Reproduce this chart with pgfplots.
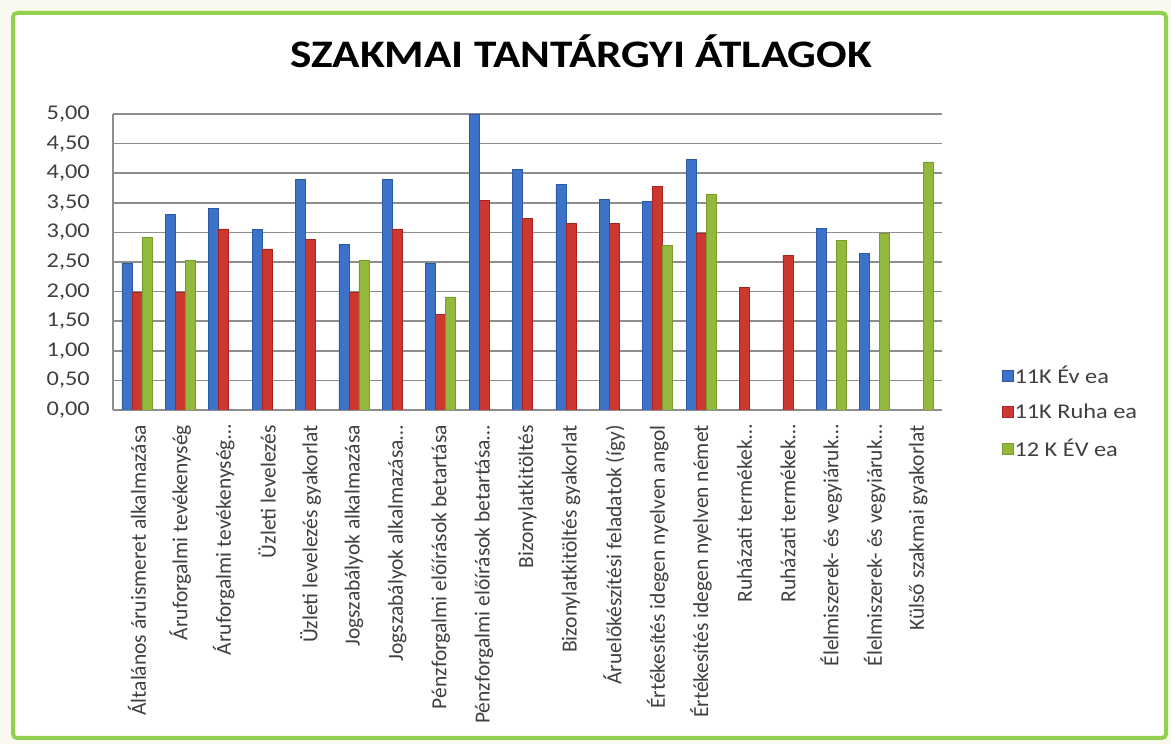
\documentclass[border=0pt]{standalone}
\usepackage{fontspec}
\setmainfont{Carlito}[FakeStretch=1.16]
\newfontfamily\labelfont{Carlito}
\usepackage{pgfplots}
\pgfplotsset{compat=1.18}
\definecolor{gridgray}{HTML}{8E8E8E}
\definecolor{textgray}{HTML}{404040}
\definecolor{framegreen}{HTML}{92D050}
\definecolor{bgcream}{HTML}{FAF9F0}
\definecolor{bluebar}{HTML}{3D72C8}
\definecolor{blueedge}{HTML}{2A5AA6}
\definecolor{redbar}{HTML}{CC3830}
\definecolor{rededge}{HTML}{A82420}
\definecolor{greenbar}{HTML}{93B93C}
\definecolor{greenedge}{HTML}{7A9A2C}
\begin{document}
\begin{tikzpicture}
\fill[bgcream] (0,0) rectangle (1171pt,744pt);
\draw[framegreen, line width=4pt, fill=white, rounded corners=4pt] (13pt,6pt) rectangle (1166pt,731pt);
\node[font=\bfseries\fontsize{39}{44}\selectfont, anchor=base, text=black] at (581pt,676pt) {SZAKMAI TANTÁRGYI ÁTLAGOK};
\begin{axis}[
  at={(113pt,334pt)}, anchor=south west,
  scale only axis, width=829pt, height=296pt,
  xmin=-0.55, xmax=18.55, ymin=0, ymax=5,
  ybar=0pt, bar width=10pt,
  axis x line*=bottom, axis y line*=left,
  axis line style={gridgray, line width=1.5pt, -},
  major tick length=0pt,
  ymajorgrids, major grid style={gridgray, line width=1.6pt},
  ytick={0,0.5,1,1.5,2,2.5,3,3.5,4,4.5,5},
  yticklabel style={/pgf/number format/fixed, /pgf/number format/fixed zerofill, /pgf/number format/precision=2, /pgf/number format/use comma, /pgf/number format/assume math mode=true},
  yticklabel style={font=\fontsize{21}{24}\selectfont, text=textgray, anchor=east, inner xsep=23pt, inner ysep=0pt},
  xtick={0,1,2,3,4,5,6,7,8,9,10,11,12,13,14,15,16,17,18},
  xticklabels={
    {Általános áruismeret alkalmazása},
    {Áruforgalmi tevékenység},
    {Áruforgalmi tevékenység…},
    {Üzleti levelezés},
    {Üzleti levelezés gyakorlat},
    {Jogszabályok alkalmazása},
    {Jogszabályok alkalmazása…},
    {Pénzforgalmi előírások betartása},
    {Pénzforgalmi előírások betartása…},
    {Bizonylatkitöltés},
    {Bizonylatkitöltés gyakorlat},
    {Áruelőkészítési feladatok (így)},
    {Értékesítés idegen nyelven angol},
    {Értékesítés idegen nyelven német},
    {Ruházati termékek…},
    {Ruházati termékek…},
    {Élelmiszerek- és vegyiáruk…},
    {Élelmiszerek- és vegyiáruk…},
    {Külső szakmai gyakorlat}},
  xticklabel style={rotate=90, anchor=east, font=\labelfont\fontsize{21.5}{24}\selectfont, text=textgray, inner xsep=15pt, inner ysep=0pt},
  legend cell align=left,
  legend style={at={(axis description cs:1.072,-0.007)}, anchor=west, draw=none, fill=none,
    font=\fontsize{21}{24}\selectfont, text=textgray, row sep=17pt, inner sep=0pt,
    nodes={inner sep=1pt, anchor=west}},
  legend image code/.code={\fill[#1] (0pt,-5.5pt) rectangle (11pt,5.5pt);},
]
\addplot[fill=bluebar, draw=blueedge, line width=0.6pt] coordinates {
 (0,2.48) (1,3.31) (2,3.40) (3,3.05) (4,3.90) (5,2.80) (6,3.90) (7,2.48) (8,5.00)
 (9,4.07) (10,3.81) (11,3.56) (12,3.53) (13,4.23) (16,3.07) (17,2.65)};
\addlegendentry{11K Év ea}
\addplot[fill=redbar, draw=rededge, line width=0.6pt] coordinates {
 (0,1.98) (1,1.98) (2,3.06) (3,2.72) (4,2.88) (5,1.98) (6,3.06) (7,1.62) (8,3.54)
 (9,3.24) (10,3.15) (11,3.15) (12,3.78) (13,2.99) (14,2.07) (15,2.61)};
\addlegendentry{11K Ruha ea}
\addplot[fill=greenbar, draw=greenedge, line width=0.6pt] coordinates {
 (0,2.92) (1,2.53) (5,2.53) (7,1.91) (12,2.78) (13,3.64) (16,2.87) (17,2.98) (18,4.19)};
\addlegendentry{12 K ÉV ea}
\end{axis}
\pgfresetboundingbox
\path (0,0) rectangle (1171pt,744pt);
\end{tikzpicture}
\end{document}
